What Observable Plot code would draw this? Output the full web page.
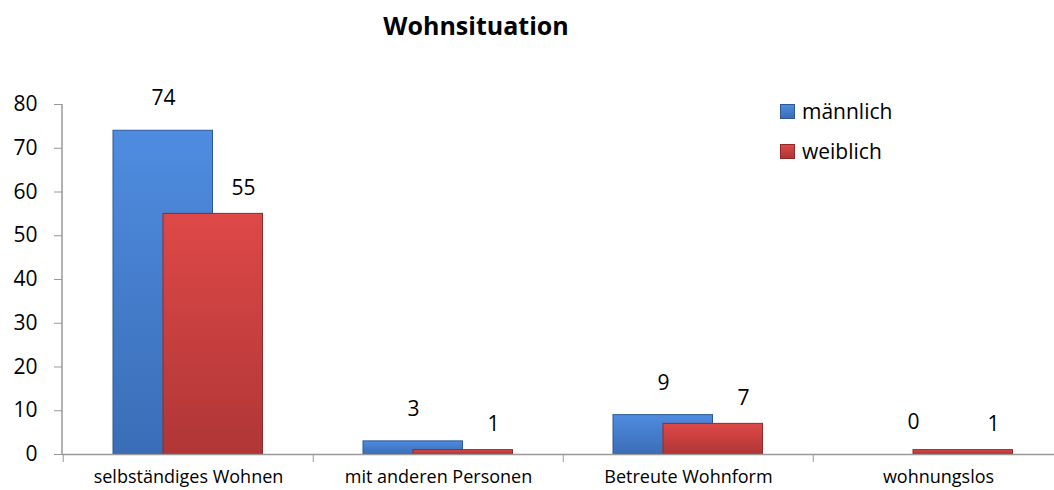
<!DOCTYPE html>
<html>
<head>
<meta charset="utf-8">
<script src="https://cdn.jsdelivr.net/npm/d3@7"></script>
<script src="https://cdn.jsdelivr.net/npm/@observablehq/plot@0.6"></script>
<style>
  body { margin: 0; background: #fff; font-family: "Open Sans", sans-serif; }
  #wrap { position: relative; width: 1054px; height: 490px; overflow: hidden; }
  #title { height: 60px; line-height: 50px; font-weight: bold; font-size: 25px; color: #000; width: 952px; text-align: center; }
  #legend { position: absolute; left: 780px; top: 101px; font-size: 21px; color: #000; }
  .item { display: flex; align-items: center; height: 20px; margin-bottom: 20px; }
  .sw { width: 15px; height: 15px; margin-right: 7px; box-sizing: border-box; }
</style>
</head>
<body>
<div id="wrap">
  <div id="title">Wohnsituation</div>
  <div id="chart"></div>
  <div id="legend"></div>
</div>
<script>
const categories = ["selbständiges Wohnen", "mit anderen Personen", "Betreute Wohnform", "wohnungslos"];
const series = ["männlich", "weiblich"];
const maennlich = [74, 3, 9, 0];
const weiblich = [55, 1, 7, 1];
const yTicks = [0, 10, 20, 30, 40, 50, 60, 70, 80];

const colors = {
  "männlich": {top: "#4f8ce0", bottom: "#3a6db6", edge: "#2c5896", grad: "gradBlue"},
  "weiblich": {top: "#de4848", bottom: "#b03636", edge: "#8f2a2a", grad: "gradRed"}
};

const dataM = categories.map((c, i) => ({cat: c, series: series[0], value: maennlich[i]}));
const dataW = categories.map((c, i) => ({cat: c, series: series[1], value: weiblich[i]}));

const bandStart = 62, bandEnd = 1064;
const bw = (bandEnd - bandStart) / categories.length;

function defs() {
  const d = d3.create("svg:defs");
  for (const s of series) {
    const c = colors[s];
    const g = d.append("linearGradient").attr("id", c.grad).attr("x1", 0).attr("y1", 0).attr("x2", 0).attr("y2", 1);
    g.append("stop").attr("offset", "0%").attr("stop-color", c.top);
    g.append("stop").attr("offset", "100%").attr("stop-color", c.bottom);
  }
  return d.node();
}

function yAxisLine(index, scales, values, dims) {
  const y = scales.y;
  return d3.create("svg:line")
    .attr("x1", dims.marginLeft).attr("x2", dims.marginLeft)
    .attr("y1", y(80)).attr("y2", y(0))
    .attr("stroke", "#999").attr("stroke-width", 1.5).node();
}

const plot = Plot.plot({
  width: 1054,
  height: 430,
  marginLeft: 62,
  marginRight: 0,
  marginTop: 44,
  marginBottom: 36,
  style: {fontFamily: "Open Sans, sans-serif", color: "#000", background: "#fff"},
  x: {type: "band", domain: categories, range: [bandStart, bandEnd], padding: 0, label: null},
  y: {domain: [0, 80], label: null},
  marks: [
    defs,
    Plot.barY(dataM.filter(d => d.value > 0), {
      x: "cat", y: "value", fill: `url(#${colors["männlich"].grad})`,
      stroke: colors["männlich"].edge, strokeWidth: 1,
      insetLeft: 50, insetRight: bw - 150
    }),
    Plot.barY(dataW.filter(d => d.value > 0), {
      x: "cat", y: "value", fill: `url(#${colors["weiblich"].grad})`,
      stroke: colors["weiblich"].edge, strokeWidth: 1,
      insetLeft: 100, insetRight: bw - 200
    }),
    Plot.ruleY([0], {stroke: "#999", strokeWidth: 1.5}),
    yAxisLine,
    Plot.axisY({ticks: yTicks, tickSize: 8, tickPadding: 17, fontSize: 21, stroke: "#999", fill: "#000", label: null}),
    Plot.axisX({tickSize: 8, dx: -bw / 2, tickFormat: () => "", stroke: "#999", label: null}),
    Plot.axisX({tickSize: 0, tickPadding: 16, fontSize: 18, fill: "#000", label: null}),
    Plot.text(dataM, {x: "cat", y: "value", text: d => String(d.value), dx: -25, dy: -32, fontSize: 21, fill: "#000"}),
    Plot.text(dataW, {x: "cat", y: "value", text: d => String(d.value), dx: 55, dy: -26, fontSize: 21, fill: "#000"})
  ]
});
document.getElementById("chart").appendChild(plot);

const legend = d3.select("#legend");
for (const s of series) {
  const c = colors[s];
  const it = legend.append("div").attr("class", "item");
  it.append("div").attr("class", "sw")
    .style("background", `linear-gradient(${c.top}, ${c.bottom})`)
    .style("border", `1px solid ${c.edge}`);
  it.append("span").text(s);
}
</script>
</body>
</html>
